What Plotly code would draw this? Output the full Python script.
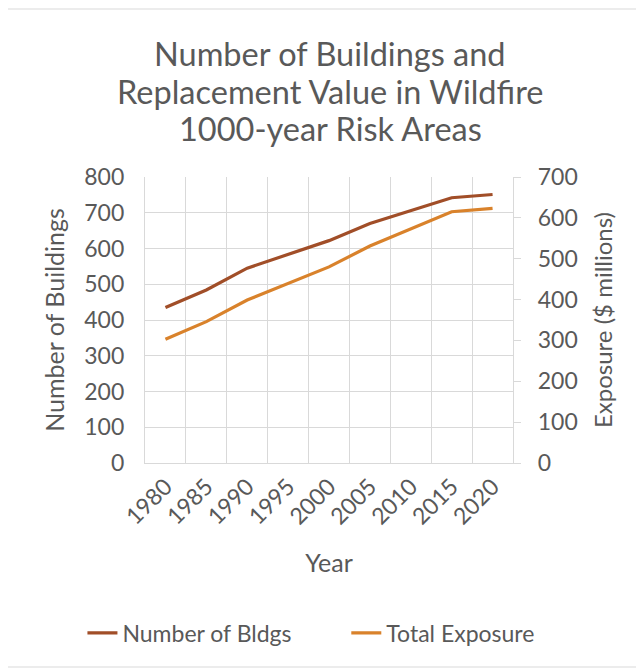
import plotly.graph_objects as go

years = ["1980", "1985", "1990", "1995", "2000", "2005", "2010", "2015", "2020"]
num_bldgs = [435, 484, 545, 584, 622, 670, 706, 742, 751]
total_exposure = [303, 346, 399, 440, 480, 531, 574, 615, 623]
title_lines = ["Number of Buildings and", "Replacement Value in Wildfire", "1000-year Risk Areas"]

FONT = "Lato"
TXT = "#595959"
GRID = "#d9d9d9"

fig = go.Figure()
fig.add_trace(go.Scatter(x=years, y=num_bldgs, name="Number of Bldgs", mode="lines",
                         line=dict(color="#A14E28", width=3.2), legend="legend"))
fig.add_trace(go.Scatter(x=years, y=total_exposure, name="Total Exposure", mode="lines",
                         line=dict(color="#D9822B", width=3.2), yaxis="y2", legend="legend2"))

fig.update_layout(
    width=644, height=669,
    margin=dict(l=137, r=139, t=169, b=214, autoexpand=False),
    paper_bgcolor="white", plot_bgcolor="white",
    font=dict(family=FONT, color=TXT, size=23),
    xaxis=dict(type="category", range=[-0.5, 8.5], tickson="boundaries", showgrid=True,
               gridcolor=GRID, gridwidth=1.3,
               tickangle=-45, tickfont=dict(size=23, color=TXT), showline=True, linecolor=GRID,
               linewidth=1.3, ticks="", title=dict(text="Year", font=dict(size=25, color=TXT), standoff=25),
               automargin=False),
    yaxis=dict(range=[0, 800], dtick=100, showgrid=True, gridcolor=GRID, gridwidth=1.3,
               showline=True, linecolor=GRID, linewidth=1.3, ticks="", zeroline=False,
               tickfont=dict(size=23, color=TXT), automargin=False, ticklabelstandoff=15,
               title=dict(text="Number of Buildings", font=dict(size=25, color=TXT), standoff=12)),
    yaxis2=dict(range=[0, 700], dtick=100, overlaying="y", side="right", showgrid=False,
                showline=True, linecolor=GRID, linewidth=1.3, ticks="outside", ticklen=7,
                tickcolor=GRID, zeroline=False, tickfont=dict(size=23, color=TXT), automargin=True,
                ticklabelstandoff=12,
                title=dict(text="Exposure ($ millions)", font=dict(size=24, color=TXT), standoff=18)),
    legend=dict(orientation="h", x=-0.17, xanchor="left",
                y=-0.594, yanchor="middle", font=dict(size=23, color=TXT)),
    legend2=dict(orientation="h", x=0.547, xanchor="left",
                 y=-0.594, yanchor="middle", font=dict(size=23, color=TXT)),
    showlegend=True,
)

title_y = [53.5, 91.5, 129]
for line, yy in zip(title_lines, title_y):
    fig.add_annotation(text=line, xref="paper", yref="paper", x=0.503, y=(463 - yy) / 286,
                       xanchor="center", yanchor="middle", showarrow=False,
                       font=dict(size=32.5, color=TXT, family=FONT))

fig.add_shape(type="rect", xref="paper", yref="paper",
              x0=(7 - 145) / 368, x1=(637 - 145) / 368,
              y0=(463 - 667) / 286, y1=(463 - 9) / 286,
              line=dict(color="#d9d9d9", width=1), fillcolor="rgba(0,0,0,0)", layer="below")

fig.write_html("out.html")
